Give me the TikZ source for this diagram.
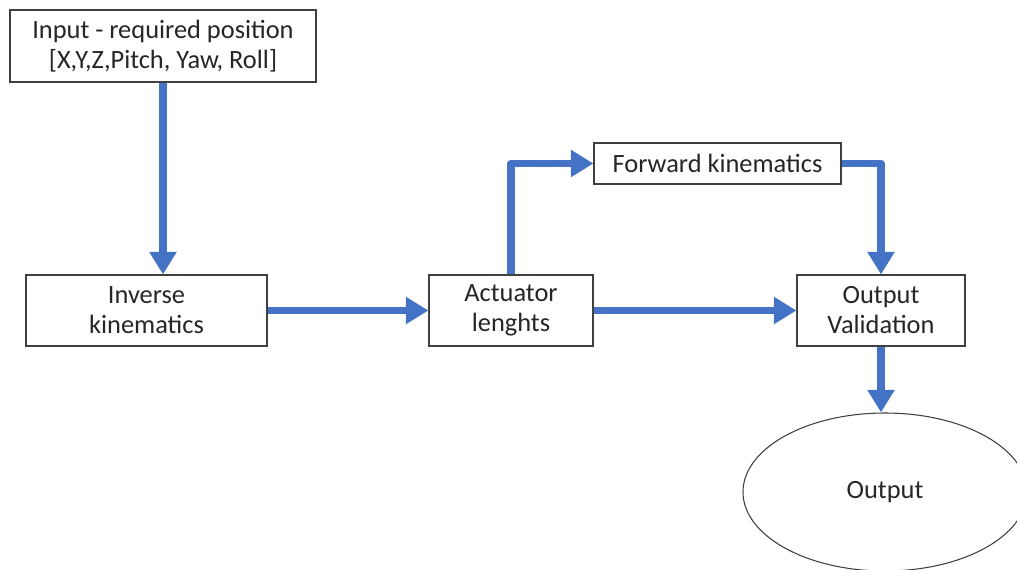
\documentclass[tikz,border=0pt]{standalone}
\usepackage{fontspec}
\setmainfont{Carlito}
\usetikzlibrary{arrows.meta,shapes.geometric}
\definecolor{flowblue}{RGB}{68,114,196}
\newdimen\px
\px=0.75pt

\begin{document}
\begin{tikzpicture}[x=\px, y=-\px,
  box/.style = {draw=black!75, line width=0.8pt, fill=white, align=center, text=black!85, font=\fontsize{19.8}{22.5}\selectfont, inner sep=0pt},
  flow/.style = {draw=flowblue, line width=5.5pt, line join=round, -{Triangle[length=17pt, width=19.5pt]}}]

\useasboundingbox (0, 0) rectangle (1017, 569);

\node[box, minimum width=306\px, minimum height=72\px] (In) at (163, 46) {Input - required position\\ {[}X,Y,Z,Pitch, Yaw, Roll{]}};
\node[box, minimum width=241\px, minimum height=71\px] (Inv) at (146.5, 310.5) {Inverse\\ kinematics};
\node[box, minimum width=164\px, minimum height=71\px] (Act) at (511, 310.5) {Actuator\\ lenghts};
\node[box, minimum width=247\px, minimum height=41\px] (Fwd) at (717.5, 163.5) {Forward kinematics};
\node[box, minimum width=168\px, minimum height=71\px] (Val) at (881, 310.5) {Output\\ Validation};
\node[box, ellipse, minimum width=284\px, minimum height=158\px] (Out) at (885, 492) {Output};

\draw[flow] (In.south -| 163, 0) -- (163, 0 |- Inv.north);
\draw[flow] (Inv.east) -- (Act.west);
\draw[flow] (Act.north) |- (Fwd.west);
\draw[flow] (Fwd.east) -| (Val.north);
\draw[flow] (Act.east) -- (Val.west);
\draw[flow] (Val.south) -- (Val.south |- Out.north);

\end{tikzpicture}
\end{document}
